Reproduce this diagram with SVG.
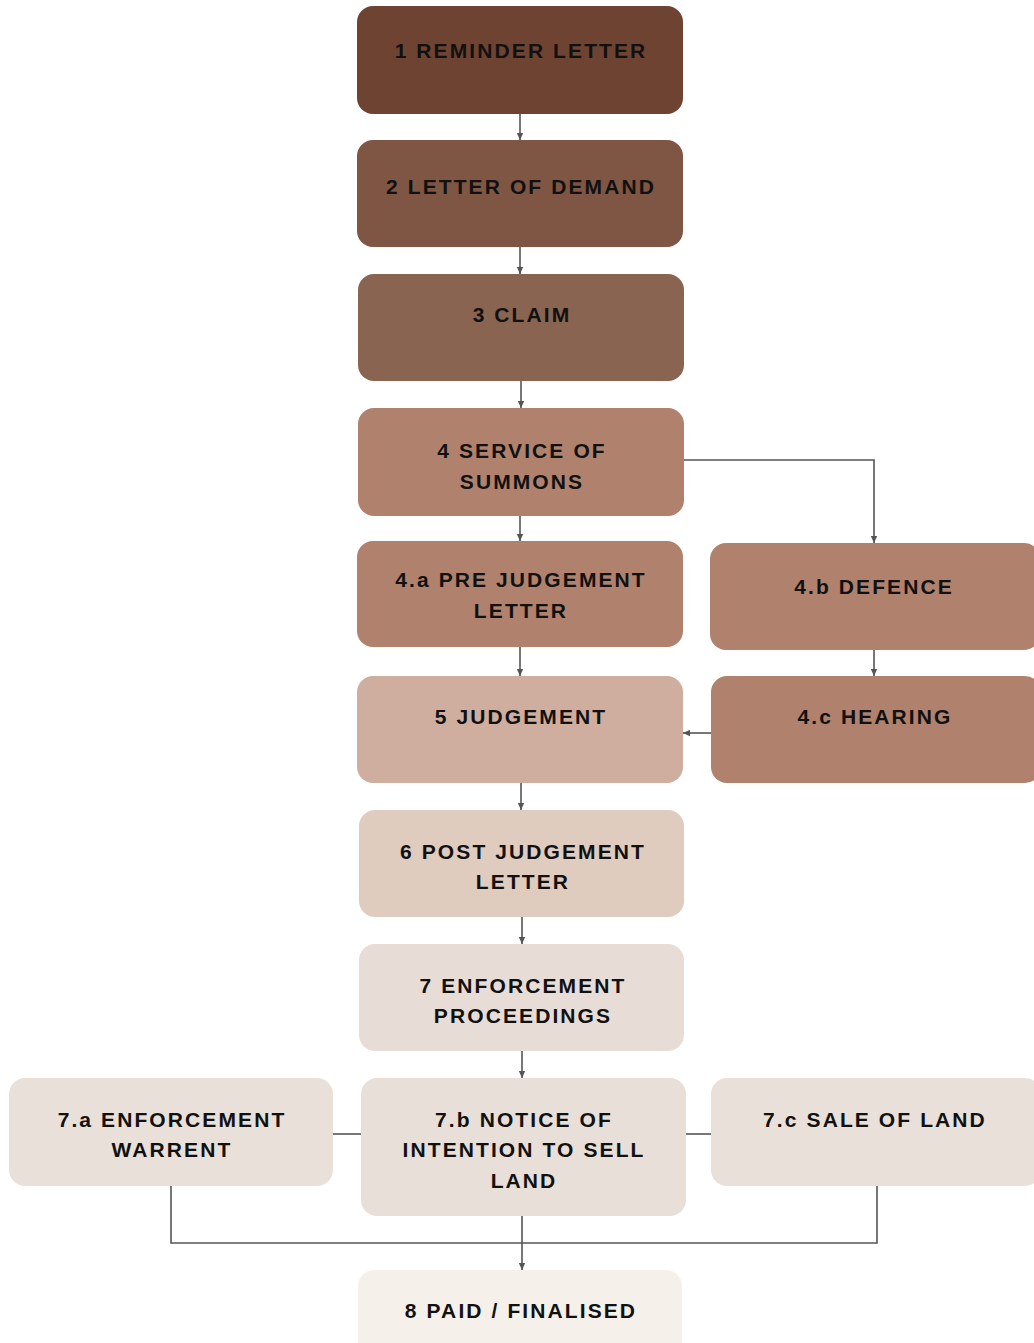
<svg xmlns="http://www.w3.org/2000/svg" width="1034" height="1343" viewBox="0 0 1034 1343">
<style>
.n rect{rx:16;ry:16;}
.n text{font-family:"Liberation Sans",Arial,sans-serif;font-weight:bold;font-size:21px;letter-spacing:2.1px;fill:#111;text-anchor:middle;}
.c path{fill:none;stroke:#555;stroke-width:1.6;}
</style>
<defs>
<marker id="ah" markerWidth="8" markerHeight="8" refX="7" refY="4" orient="auto" markerUnits="userSpaceOnUse">
<path d="M0,0.8 L7,4 L0,7.2 Z" fill="#555"/>
</marker>
</defs>
<rect width="1034" height="1343" fill="#fff"/>
<g class="c">
<path d="M520,114 V140" marker-end="url(#ah)"/>
<path d="M520,247 V274" marker-end="url(#ah)"/>
<path d="M521,381 V408" marker-end="url(#ah)"/>
<path d="M520,516 V541" marker-end="url(#ah)"/>
<path d="M684,460 H874 V543" marker-end="url(#ah)"/>
<path d="M520,647 V676" marker-end="url(#ah)"/>
<path d="M874,650 V676" marker-end="url(#ah)"/>
<path d="M711,733 H683" marker-end="url(#ah)"/>
<path d="M521,783 V810" marker-end="url(#ah)"/>
<path d="M522,917 V944" marker-end="url(#ah)"/>
<path d="M522,1051 V1078" marker-end="url(#ah)"/>
<path d="M333,1134 H361"/>
<path d="M686,1134 H711"/>
<path d="M171,1186 V1243 H877 V1186"/>
<path d="M522,1216 V1270" marker-end="url(#ah)"/>
</g>
<g id="n1" class="n"><rect x="357" y="6" width="326" height="108" fill="#6f4331"/><text x="521" y="58">1 REMINDER LETTER</text></g>
<g id="n2" class="n"><rect x="357" y="140" width="326" height="107" fill="#7e5643"/><text x="521" y="194">2 LETTER OF DEMAND</text></g>
<g id="n3" class="n"><rect x="358" y="274" width="326" height="107" fill="#896450"/><text x="522" y="322">3 CLAIM</text></g>
<g id="n4" class="n"><rect x="358" y="408" width="326" height="108" fill="#b0826d"/><text x="522" y="458">4 SERVICE OF</text><text x="522" y="489">SUMMONS</text></g>
<g id="n4a" class="n"><rect x="357" y="541" width="326" height="106" fill="#b0826d"/><text x="521" y="587">4.a PRE JUDGEMENT</text><text x="521" y="618">LETTER</text></g>
<g id="n4b" class="n"><rect x="710" y="543" width="330" height="107" fill="#b0826d"/><text x="874" y="594">4.b DEFENCE</text></g>
<g id="n4c" class="n"><rect x="711" y="676" width="330" height="107" fill="#b0826d"/><text x="875" y="724">4.c HEARING</text></g>
<g id="n5" class="n"><rect x="357" y="676" width="326" height="107" fill="#cfaea0"/><text x="521" y="724">5 JUDGEMENT</text></g>
<g id="n6" class="n"><rect x="359" y="810" width="325" height="107" fill="#e0cbbf"/><text x="523" y="859">6 POST JUDGEMENT</text><text x="523" y="889">LETTER</text></g>
<g id="n7" class="n"><rect x="359" y="944" width="325" height="107" fill="#e8ddd6"/><text x="523" y="993">7 ENFORCEMENT</text><text x="523" y="1023">PROCEEDINGS</text></g>
<g id="n7a" class="n"><rect x="9" y="1078" width="324" height="108" fill="#e9e0d9"/><text x="172" y="1127">7.a ENFORCEMENT</text><text x="172" y="1157">WARRENT</text></g>
<g id="n7b" class="n"><rect x="361" y="1078" width="325" height="138" fill="#e8dfd8"/><text x="524" y="1127">7.b NOTICE OF</text><text x="524" y="1157">INTENTION TO SELL</text><text x="524" y="1188">LAND</text></g>
<g id="n7c" class="n"><rect x="711" y="1078" width="330" height="108" fill="#e9e0d9"/><text x="875" y="1127">7.c SALE OF LAND</text></g>
<g id="n8" class="n"><rect x="358" y="1270" width="324" height="90" fill="#f5f0ea"/><text x="521" y="1318">8 PAID / FINALISED</text></g>
</svg>
